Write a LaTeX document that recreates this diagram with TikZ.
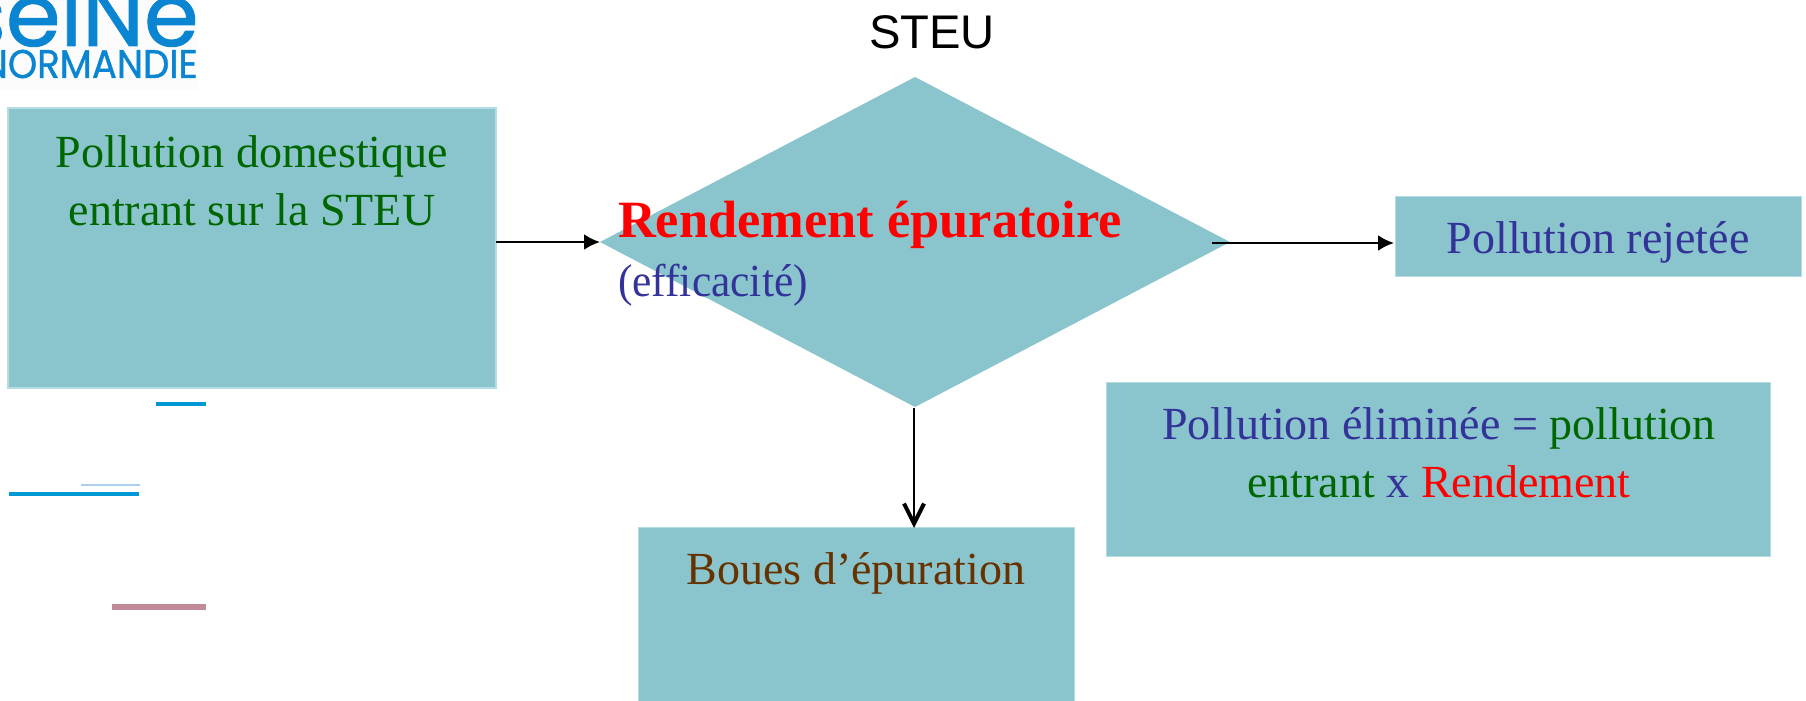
\documentclass[tikz,border=0pt]{standalone}
\usepackage{fontspec}
\setmainfont{Liberation Serif}
\newfontfamily\arialfont{Liberation Sans}
\newfontfamily\logofont[FakeBold=1]{Poppins}
\usetikzlibrary{arrows.meta,shapes.geometric}
\definecolor{teal1}{HTML}{8AC5CE}
\definecolor{tealedge}{HTML}{B5DCE2}
\definecolor{vert}{HTML}{006600}
\definecolor{bleu}{HTML}{333399}
\definecolor{rouge}{HTML}{FF0000}
\definecolor{brun}{HTML}{663300}
\definecolor{logoblue}{HTML}{0A85D1}
\definecolor{barblue}{HTML}{0099D6}
\definecolor{barpale}{HTML}{ADCFEE}
\definecolor{barpink}{HTML}{C08A98}
\tikzset{
  x=0.5pt,y=-0.5pt,
  box/.style={rectangle,fill=teal1,draw=tealedge,line width=0.4pt,inner sep=0pt,outer sep=0pt},
  boxthick/.style={box,line width=1pt},
  txt/.style={inner sep=0pt,outer sep=0pt,anchor=base,align=center,font=\fontsize{23}{29}\selectfont},
  conn/.style={draw=black,line width=1.2pt,-{Latex[length=8pt,width=8pt]}},
  barline/.style={line width=2pt},
}
\begin{document}
\begin{tikzpicture}
\useasboundingbox (0,0) rectangle (1806,701);
% logo
\fill[white!99!black] (0,0) rectangle (197,90);
\begin{scope}
\clip (0,0) rectangle (197,90);
\node[inner sep=0pt,anchor=base east,text=logoblue,font=\logofont\fontsize{44}{44}\selectfont] (logoA) at (199,46) {seiNe};
\node[inner sep=0pt,anchor=base east,text=logoblue,font=\logofont\fontsize{20}{20}\selectfont] (logoB) at (198,78) {\scalebox{0.93}[1]{NORMANDIE}};
\end{scope}
% boxes
\node[boxthick,minimum width=244pt,minimum height=140pt] (src) at (252,248) {};
\node[diamond,fill=teal1,inner sep=0pt,outer sep=0pt,aspect=1.909,minimum width=315pt,minimum height=165pt] (steu) at (915,242) {};
\node[box,minimum width=203pt,minimum height=40pt] (rej) at (1598,236) {};
\node[box,minimum width=332pt,minimum height=87pt] (elim) at (1438,469) {};
\node[box,minimum width=218pt,minimum height=87pt] (boues) at (856,614) {};
% title
\node[inner sep=0pt,anchor=base,font=\arialfont\fontsize{23.6}{28}\selectfont] (titre) at (932,49) {STEU};
% connectors
\coordinate (rs) at (1212,243);
\coordinate (re) at (1394,243);
\coordinate (sa) at (496,242);
\draw[conn] (sa) -- (steu.west);
\draw[conn] (rs) -- (re);
\coordinate (ds) at (914,408);
\coordinate (de) at (914,528);
\draw[line width=1.25pt,-{Straight Barb[length=10pt,width=10pt,line width=2pt]}] (ds) -- (de);
% texts
\node[txt,text=vert] (t1) at (252,226) {Pollution domestique\\entrant sur la STEU};
\node[inner sep=0pt,outer sep=0pt,anchor=base west,text=rouge,font=\bfseries\fontsize{26.2}{30}\selectfont] (t2) at (618,237) {Rendement épuratoire};
\node[inner sep=0pt,outer sep=0pt,anchor=base west,text=bleu,font=\fontsize{23}{29}\selectfont] (t3) at (618,296) {\scalebox{0.945}[1]{(efficacité)}};
\node[txt,text=bleu] (t4) at (1598,253) {Pollution rejetée};
\node[txt,text=vert] (t5) at (1439,497) {\textcolor{bleu}{Pollution éliminée =} pollution\\entrant \textcolor{bleu}{x} \textcolor{rouge}{Rendement}};
\node[txt,text=brun] (t6) at (856,584) {Boues d’épuration};
% stray bars
\draw[barline,draw=barblue] (156,404) -- (206,404);
\draw[line width=1pt,draw=barpale] (81,485) -- (140,485);
\draw[barline,draw=barblue] (9,494) -- (139,494);
\draw[line width=3pt,draw=barpink] (112,607) -- (206,607);
\end{tikzpicture}
\end{document}
